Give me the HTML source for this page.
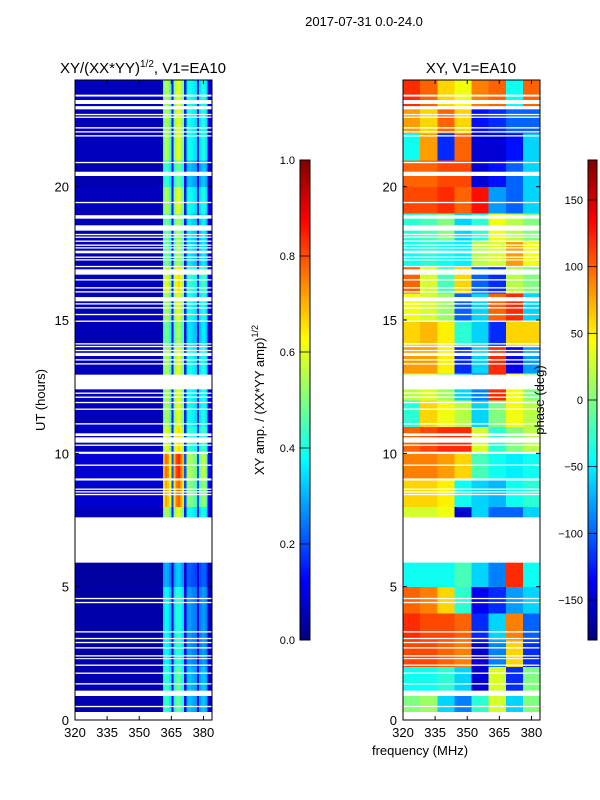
<!DOCTYPE html>
<html><head><meta charset="utf-8"><style>
body{margin:0;background:#fff;}
svg{display:block;font-family:"Liberation Sans",sans-serif;}
</style></head><body>
<svg id="fig" width="600" height="800" viewBox="0 0 600 800">
<defs>
<linearGradient id="jet" x1="0" y1="1" x2="0" y2="0"></linearGradient>
</defs>
<text x="364" y="26" font-size="13" text-anchor="middle">2017-07-31 0.0-24.0</text>
<g id="left"></g>
<g id="right"></g>
<text x="143" y="73" font-size="15" text-anchor="middle">XY/(XX*YY)<tspan font-size="10" dy="-6">1/2</tspan><tspan dy="6">, V1=EA10</tspan></text>
<text x="471" y="73" font-size="15" text-anchor="middle">XY, V1=EA10</text>
<text x="420" y="755" font-size="13" text-anchor="middle">frequency (MHz)</text>
<text transform="translate(45,400) rotate(-90)" font-size="13" text-anchor="middle">UT (hours)</text>
<rect x="300" y="160" width="10" height="480" fill="url(#jet)" stroke="#000" stroke-width="1"/>
<rect x="588" y="160" width="9" height="480" fill="url(#jet)" stroke="#000" stroke-width="1"/>
<text transform="translate(264,400) rotate(-90)" font-size="13" text-anchor="middle">XY amp. / (XX*YY amp)<tspan font-size="9" dy="-6">1/2</tspan></text>
<text transform="translate(544,400) rotate(-90)" font-size="13" text-anchor="middle">phase (deg)</text>
<g id="cb"></g>
</svg>
<script>
const freqTicks=[320,335,350,365,380];
const hourTicks=[0,5,10,15,20];
const ampTicks=[0.0,0.2,0.4,0.6,0.8,1.0];
const phaseTicks=[-150,-100,-50,0,50,100,150];
// amplitude per 1-MHz channel starting at 320
const ampProfile=[0.06,0.06,0.06,0.06,0.06,0.06,0.06,0.06,0.06,0.06,0.06,0.06,0.06,0.06,0.06,0.06,0.06,0.06,0.06,0.06,0.06,0.06,0.06,0.06,0.06,0.06,0.06,0.06,0.06,0.06,0.06,0.06,0.06,0.06,0.06,0.06,0.06,0.06,0.06,0.06,0.06,0.5,0.55,0.52,0.45,0.15,0.5,0.58,0.6,0.55,0.5,0.15,0.38,0.4,0.38,0.36,0.34,0.15,0.36,0.4,0.4,0.35,0.1,0.08];
// per-hour scaling of amplitude
const ampHourScale=[0.8,0.8,0.7,0.7,0.7,0.55,0.5,1.0,1.3,1.4,1.1,1.0,1.0,1.0,0.9,1.0,1.1,0.9,0.9,1.0,0.8,1.0,1.0,1.0];
// phase grid: 24 hours x 8 bands of 8 MHz
const phaseGrid=[
[0,10,-60,-90,-30,30,-60,0],
[-40,-40,-30,-60,-150,30,-120,0],
[110,110,100,90,-150,-90,60,-120],
[120,110,110,100,-120,-60,90,-100],
[100,90,60,-30,-140,-120,-80,-60],
[-40,-40,-40,-20,-60,-90,120,-40],
[-40,-40,-40,-20,-60,-90,-60,-40],
[30,30,40,-150,-60,-100,-100,-60],
[60,60,50,-40,-60,-70,-40,-30],
[90,90,80,60,-20,-40,-50,-40],
[100,110,120,120,30,-30,0,20],
[-30,60,40,20,-60,0,40,20],
[20,30,10,-60,-90,120,40,0],
[80,80,50,-120,-60,120,-140,-80],
[60,70,50,-30,-60,-120,60,60],
[40,30,10,-100,-60,100,120,-60],
[100,30,-20,60,-100,-120,20,0],
[-40,-30,-40,-50,20,30,80,40],
[-30,-20,0,-60,-30,40,20,0],
[110,110,120,100,130,-80,-100,-60],
[100,100,110,110,-150,-130,-100,-60],
[-40,80,-120,100,-150,-150,-130,-60],
[80,60,100,60,-130,-120,-100,-100],
[120,100,60,40,90,100,-40,100]];
// missing-data intervals (hours)
const gapStarts=[0,0.48,0.9,1.33,1.73,2.03,2.28,2.38,2.68,2.88,3.03,3.28,4.38,4.53,5.9,8.43,8.53,8.63,8.98,9.53,9.98,10.28,10.4,10.65,11.08,11.63,11.88,12.08,12.23,12.4,13.33,13.48,13.65,13.83,13.98,14.08,14.93,15.18,15.43,15.58,15.7,16.03,16.18,16.48,16.7,16.98,17.23,17.33,17.5,17.68,17.78,17.93,18.08,18.18,18.35,18.8,19.38,20.4,20.88,21.88,22.03,22.18,22.58,22.68,22.9,23.1,23.38];
const gapEnds=[0.3,0.53,1.1,1.38,1.78,2.08,2.32,2.43,2.73,2.93,3.08,3.33,4.43,4.58,7.6,8.48,8.58,8.68,9.06,9.58,10.06,10.33,10.6,10.75,11.13,11.68,11.93,12.13,12.28,12.95,13.38,13.53,13.77,13.88,14.03,14.13,14.98,15.23,15.48,15.63,15.86,16.08,16.23,16.53,16.9,17.03,17.28,17.38,17.6,17.73,17.83,17.98,18.13,18.23,18.55,18.93,19.43,20.56,20.93,21.93,22.08,22.23,22.63,22.73,23.02,23.25,23.45];

const NS='http://www.w3.org/2000/svg';
function mk(tag,attrs,parent){const e=document.createElementNS(NS,tag);for(const k in attrs)e.setAttribute(k,attrs[k]);parent.appendChild(e);return e;}
function jet(v){v=Math.max(0,Math.min(1,v));
 const r=Math.max(0,Math.min(1,1.5-Math.abs(4*v-3)));
 const g=Math.max(0,Math.min(1,1.5-Math.abs(4*v-2)));
 const b=Math.max(0,Math.min(1,1.5-Math.abs(4*v-1)));
 return `rgb(${Math.round(r*255)},${Math.round(g*255)},${Math.round(b*255)})`;}
const grad=document.getElementById('jet');
for(let i=0;i<=32;i++){mk('stop',{offset:i/32,'stop-color':jet(i/32)},grad);}
const Y0=720,Y1=80,FMIN=320,FMAX=384;
function yScale(h){return Y0-(h/24)*(Y0-Y1);}
function makeX(x0,x1){return f=>x0+(f-FMIN)/(FMAX-FMIN)*(x1-x0);}

function drawPanel(g,x0,x1,valueAt,nCols,colW,nameCell){
 const xs=makeX(x0,x1);
 for(let h=0;h<24;h++){
  for(let c=0;c<nCols;c++){
   const f=FMIN+c*colW;
   const r=mk('rect',{x:xs(f),y:yScale(h+1),width:xs(f+colW)-xs(f)+0.4,height:yScale(h)-yScale(h+1)+0.4,fill:jet(valueAt(h,c)),'shape-rendering':'crispEdges'},g);
   
   
  }
 }
 for(let i=0;i<gapStarts.length;i++){
  const r=mk('rect',{x:x0,y:yScale(gapEnds[i]),width:x1-x0,height:yScale(gapStarts[i])-yScale(gapEnds[i]),fill:'#fff'},g);
  
  
 }
 const fr=mk('rect',{x:x0,y:Y1,width:x1-x0,height:Y0-Y1,fill:'none',stroke:'#000','stroke-width':1},g);
 
 
 freqTicks.forEach(t=>{const x=xs(t);
  mk('line',{x1:x,y1:Y0,x2:x,y2:Y0-4,stroke:'#000'},g);
  mk('line',{x1:x,y1:Y1,x2:x,y2:Y1+4,stroke:'#000'},g);
  const tx=mk('text',{x:x,y:Y0+17,'font-size':13,'text-anchor':'middle'},g);tx.textContent=t;
  
  });
 hourTicks.forEach(t=>{const y=yScale(t);
  mk('line',{x1:x0,y1:y,x2:x0+4,y2:y,stroke:'#000'},g);
  mk('line',{x1:x1,y1:y,x2:x1-4,y2:y,stroke:'#000'},g);
  const tx=mk('text',{x:x0-6,y:y+5,'font-size':13,'text-anchor':'end'},g);tx.textContent=t;
  
  });
}
drawPanel(document.getElementById('left'),75,212,(h,c)=>ampProfile[c]*ampHourScale[h],64,1,'amplitude-cell');
drawPanel(document.getElementById('right'),403,540,(h,c)=>(phaseGrid[h][c]+180)/360,8,8,'phase-cell');

const cb=document.getElementById('cb');
ampTicks.forEach(t=>{const y=640-t*480;
 mk('line',{x1:300,y1:y,x2:310,y2:y,stroke:'#000','stroke-width':0.8},cb);
 const tx=mk('text',{x:295,y:y+4,'font-size':11,'text-anchor':'end'},cb);tx.textContent=t.toFixed(1);
 
 });
phaseTicks.forEach(t=>{const y=640-(t+180)/360*480;
 mk('line',{x1:588,y1:y,x2:597,y2:y,stroke:'#000','stroke-width':0.8},cb);
 const tx=mk('text',{x:583,y:y+4,'font-size':11,'text-anchor':'end'},cb);tx.textContent=t<0?'\u2212'+(-t):t;
 
 });
</script>
</body></html>
